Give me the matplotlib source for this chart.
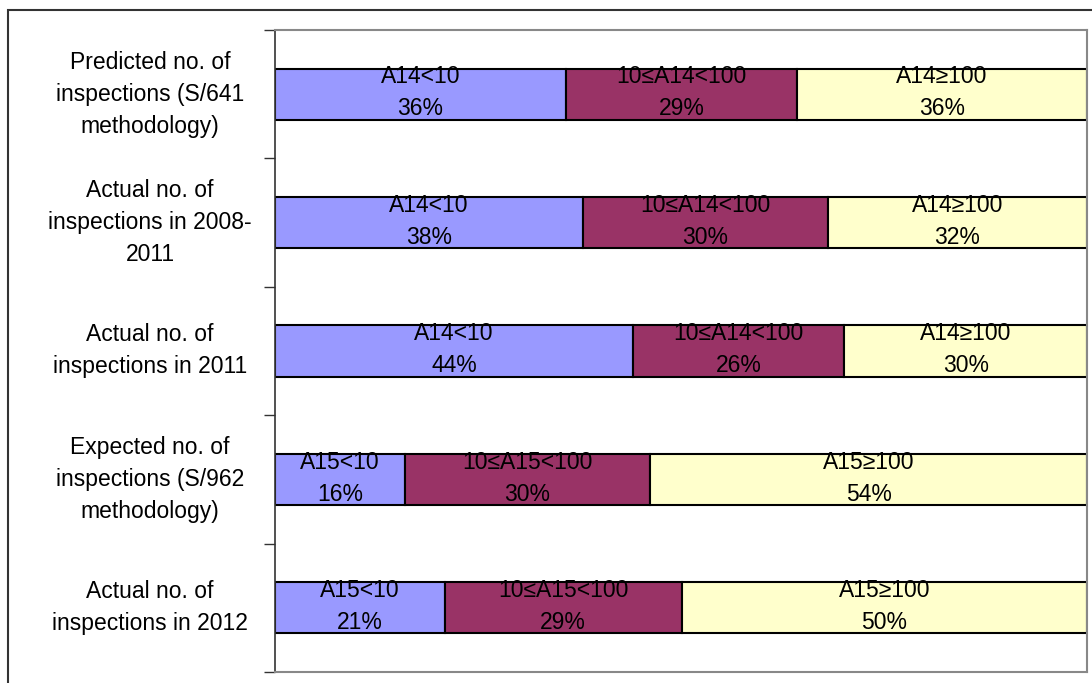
import matplotlib.pyplot as plt
from matplotlib.patches import Rectangle

plt.rcParams['font.family'] = ['Liberation Sans', 'DejaVu Sans']

categories = ['Predicted no. of\ninspections (S/641\nmethodology)',
              'Actual no. of\ninspections in 2008-\n2011',
              'Actual no. of\ninspections in 2011',
              'Expected no. of\ninspections (S/962\nmethodology)',
              'Actual no. of\ninspections in 2012']
low = [35.8, 37.9, 44.1, 16.0, 20.9]
mid = [28.5, 30.2, 26.0, 30.2, 29.2]
high = [35.7, 31.9, 29.9, 53.8, 49.9]
low_names = ['A14<10', 'A14<10', 'A14<10', 'A15<10', 'A15<10']
mid_names = ['10≤A14<100', '10≤A14<100', '10≤A14<100', '10≤A15<100', '10≤A15<100']
high_names = ['A14≥100', 'A14≥100', 'A14≥100', 'A15≥100', 'A15≥100']
low_pct = ['36%', '38%', '44%', '16%', '21%']
mid_pct = ['29%', '30%', '26%', '30%', '29%']
high_pct = ['36%', '32%', '30%', '54%', '50%']

fig = plt.figure(figsize=(10.92, 6.83), dpi=100)
fig.patches.append(Rectangle((8/1092, -0.1), 1.2, 1 - 10/683 + 0.1, transform=fig.transFigure,
                             fill=False, edgecolor='#333333', linewidth=1.5))
ax = fig.add_axes([275/1092, 1 - 672/683, 812/1092, 642/683])

y = list(range(len(categories)))
series = [(low, low_names, low_pct, '#9999FF'),
          (mid, mid_names, mid_pct, '#993366'),
          (high, high_names, high_pct, '#FFFFCC')]
left = [0] * len(categories)
for vals, names, pcts, col in series:
    ax.barh(y, vals, left=left, height=0.4, color=col, edgecolor='black', linewidth=1.5)
    for i in y:
        ax.text(left[i] + vals[i] / 2, i - 0.01, names[i] + '\n' + pcts[i],
                ha='center', va='center', fontsize=16.5, linespacing=1.5, color='black')
    left = [l + v for l, v in zip(left, vals)]

ax.set_xlim(0, sum([low[0], mid[0], high[0]]))
ax.set_ylim(4.5, -0.5)
ax.set_xticks([])
ax.set_yticks(y)
ax.set_yticklabels(categories, fontsize=16.5, linespacing=1.5, ha='center', va='center')
ax.tick_params(axis='y', which='major', length=0, pad=90)
ax.set_yticks([-0.5, 0.5, 1.5, 2.5, 3.5, 4.5], minor=True)
ax.tick_params(axis='y', which='minor', length=8, width=1, color='#333333')
for s in ['top', 'right', 'bottom']:
    ax.spines[s].set_color('#888888')
    ax.spines[s].set_linewidth(1.5)
ax.spines['left'].set_color('#333333')
ax.spines['left'].set_linewidth(1.2)

plt.savefig('out.png', dpi=100)
